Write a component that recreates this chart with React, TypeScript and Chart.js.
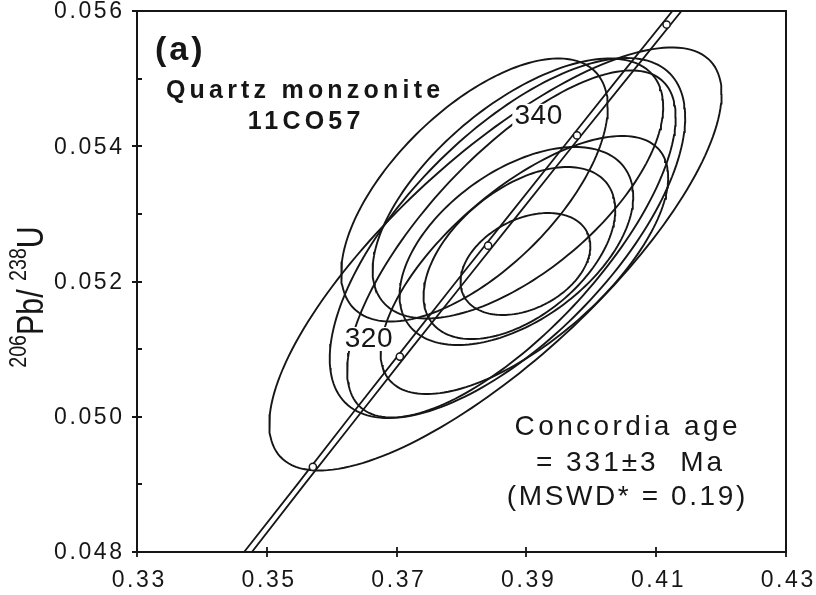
import React, { useEffect, useRef } from 'react';
import { Chart, registerables } from 'chart.js';
Chart.register(...registerables);

// Axis ticks
const xTicks = [0.33, 0.35, 0.37, 0.39, 0.41, 0.43];
const yTicks = [0.048, 0.05, 0.052, 0.054, 0.056];
const yMinorTicks = [0.049, 0.051, 0.053, 0.055];

// Concordia band edges, read at fixed 206Pb/238U levels
const bandY = [0.048, 0.049, 0.05, 0.051, 0.052, 0.053, 0.054, 0.055, 0.056];
const bandLeftX = [0.3465, 0.3547, 0.3628, 0.371, 0.3792, 0.3875, 0.3958, 0.4041, 0.4125];
const bandRightX = [0.3477, 0.3558, 0.364, 0.3722, 0.3805, 0.3888, 0.3971, 0.4055, 0.4139];

// Age markers on the concordia (Ma)
const markerAges = [310, 320, 330, 340, 350];
const markerX = [0.3571, 0.3705, 0.3841, 0.3978, 0.4116];
const markerY = [0.04926, 0.05089, 0.05253, 0.05416, 0.0558];

// Labelled ages
const ageLabels = ['320', '340'];
const ageLabelX = [0.36569, 0.39185];
const ageLabelY = [0.05115, 0.05445];

// Error ellipses: centre, half-extent in x / y, correlation
const ellCx = [0.38523, 0.38708, 0.38769, 0.38969, 0.382, 0.38869, 0.38846, 0.38892, 0.38985];
const ellCy = [0.052333, 0.052643, 0.052555, 0.052244, 0.053353, 0.053375, 0.052525, 0.052421, 0.052259];
const ellAx = [0.034846, 0.027385, 0.025308, 0.022154, 0.020538, 0.022385, 0.018, 0.014769, 0.01];
const ellAy = [0.003128, 0.002662, 0.002566, 0.001908, 0.001945, 0.001922, 0.001464, 0.001272, 0.000754];
const ellRho = [0.78, 0.67, 0.73, 0.68, 0.63, 0.63, 0.5, 0.5, 0.35];

const FONT = '"Liberation Sans", Arial, Helvetica, sans-serif';
const INK = '#161616';

function ellipsePoints(i: number) {
  const pts: { x: number; y: number }[] = [];
  const n = 180;
  const s = Math.sqrt(1 - ellRho[i] * ellRho[i]);
  for (let k = 0; k <= n; k++) {
    const t = (k / n) * Math.PI * 2;
    pts.push({
      x: ellCx[i] + ellAx[i] * Math.cos(t),
      y: ellCy[i] + ellAy[i] * (ellRho[i] * Math.cos(t) + s * Math.sin(t)),
    });
  }
  return pts;
}

function drawText(ctx: CanvasRenderingContext2D, str: string, x: number, y: number, font: string, align: CanvasTextAlign, spacing: number) {
  ctx.font = font;
  (ctx as any).letterSpacing = spacing + 'px';
  ctx.textAlign = align;
  ctx.textBaseline = 'middle';
  const dx = align === 'center' ? spacing / 2 : align === 'right' ? spacing : 0;
  ctx.fillText(str, x + dx, y);
}

const decor = {
  id: 'decor',
  afterDraw(chart: any) {
    const { ctx, chartArea: a, scales } = chart;
    const xs = scales.x;
    const ys = scales.y;
    ctx.save();
    ctx.strokeStyle = INK;
    ctx.lineWidth = 2;
    ctx.strokeRect(a.left, a.top, a.right - a.left, a.bottom - a.top);
    ctx.lineWidth = 1.8;
    ctx.beginPath();
    for (const v of yTicks) {
      const p = Math.round(ys.getPixelForValue(v));
      ctx.moveTo(a.left - 5, p);
      ctx.lineTo(a.left + 5, p);
    }
    for (const v of yMinorTicks) {
      const p = Math.round(ys.getPixelForValue(v));
      ctx.moveTo(a.left, p);
      ctx.lineTo(a.left + 5, p);
    }
    for (const v of xTicks) {
      const p = Math.round(xs.getPixelForValue(v));
      ctx.moveTo(p, a.bottom - 5);
      ctx.lineTo(p, a.bottom + 5);
    }
    ctx.stroke();

    ctx.fillStyle = INK;
    // tick labels
    for (const v of yTicks) {
      drawText(ctx, v.toFixed(3), a.left - 15, ys.getPixelForValue(v) + 1, `23px ${FONT}`, 'right', 2.6);
    }
    for (const v of xTicks) {
      drawText(ctx, v.toFixed(2), xs.getPixelForValue(v) + 1, a.bottom + 29, `23px ${FONT}`, 'center', 2.6);
    }
    // age labels on a white patch
    for (let i = 0; i < ageLabels.length; i++) {
      const px = xs.getPixelForValue(ageLabelX[i]);
      const py = ys.getPixelForValue(ageLabelY[i]);
      ctx.font = `28px ${FONT}`;
      (ctx as any).letterSpacing = '0.5px';
      const w = ctx.measureText(ageLabels[i]).width;
      ctx.fillStyle = '#ffffff';
      ctx.fillRect(px - w / 2 - 2, py - 12, w + 4, 24);
      ctx.fillStyle = INK;
      drawText(ctx, ageLabels[i], px, py, `28px ${FONT}`, 'center', 0.5);
    }
    // panel label and sample
    drawText(ctx, '(a)', a.left + 18, a.top + 40, `bold 34px ${FONT}`, 'left', 3);
    drawText(ctx, 'Quartz monzonite', a.left + 166, a.top + 80, `bold 25px ${FONT}`, 'center', 4.2);
    drawText(ctx, '11CO57', a.left + 167, a.top + 111, `bold 25px ${FONT}`, 'center', 4.2);
    // result text
    drawText(ctx, 'Concordia age', a.left + 489, a.top + 416, `28px ${FONT}`, 'center', 3.4);
    drawText(ctx, '= 331\u00B13  Ma', a.left + 492, a.top + 452, `28px ${FONT}`, 'center', 3.0);
    drawText(ctx, '(MSWD* = 0.19)', a.left + 489, a.top + 486, `28px ${FONT}`, 'center', 2.6);

    // y-axis title with superscripts, rotated
    (ctx as any).letterSpacing = '0px';
    ctx.save();
    ctx.translate(43, 297);
    ctx.rotate(-Math.PI / 2);
    ctx.scale(0.82, 1);
    ctx.textAlign = 'left';
    ctx.textBaseline = 'alphabetic';
    const parts: [string, boolean][] = [['206', true], ['Pb/ ', false], ['238', true], ['U', false]];
    const supFont = `24px ${FONT}`;
    const mainFont = `37px ${FONT}`;
    let total = 0;
    for (const [s, sup] of parts) {
      ctx.font = sup ? supFont : mainFont;
      total += ctx.measureText(s).width;
    }
    let x = -total / 2;
    for (const [s, sup] of parts) {
      ctx.font = sup ? supFont : mainFont;
      ctx.fillText(s, x, sup ? -17 : 0);
      x += ctx.measureText(s).width;
    }
    ctx.restore();
    ctx.restore();
  },
};

export default function App() {
  const ref = useRef<HTMLCanvasElement>(null);
  useEffect(() => {
    if (!ref.current) return;
    const datasets: any[] = [];
    datasets.push({
      label: 'ages',
      data: markerAges.map((_, i) => ({ x: markerX[i], y: markerY[i] })),
      showLine: false,
      pointRadius: 3.6,
      pointBackgroundColor: '#ffffff',
      pointBorderColor: INK,
      pointBorderWidth: 1.5,
      order: 0,
    });
    datasets.push({
      label: 'band-left',
      data: bandY.map((y, i) => ({ x: bandLeftX[i], y })),
      showLine: true,
      pointRadius: 0,
      borderColor: INK,
      borderWidth: 1.8,
      order: 1,
    });
    datasets.push({
      label: 'band-right',
      data: bandY.map((y, i) => ({ x: bandRightX[i], y })),
      showLine: true,
      pointRadius: 0,
      borderColor: INK,
      borderWidth: 1.8,
      order: 1,
    });
    for (let i = 0; i < ellCx.length; i++) {
      datasets.push({
        label: 'ellipse' + i,
        data: ellipsePoints(i),
        showLine: true,
        pointRadius: 0,
        borderColor: INK,
        borderWidth: 1.9,
        tension: 0,
        order: 2,
      });
    }
    const zeroPad = (s: any) => {
      s.paddingTop = 0;
      s.paddingBottom = 0;
      s.paddingLeft = 0;
      s.paddingRight = 0;
    };
    const chart = new Chart(ref.current, {
      type: 'scatter',
      data: { datasets },
      options: {
        animation: false,
        responsive: false,
        devicePixelRatio: 1,
        layout: { padding: { left: 0, top: 11, right: 30, bottom: 0 } },
        plugins: { legend: { display: false }, tooltip: { enabled: false } },
        scales: {
          x: {
            type: 'linear',
            min: 0.33,
            max: 0.43,
            afterBuildTicks: (s: any) => { s.ticks = xTicks.map((v) => ({ value: v })); },
            afterFit: (s: any) => { s.height = 43; zeroPad(s); },
            grid: { display: false, drawTicks: false },
            border: { display: false },
            ticks: { display: false },
          },
          y: {
            type: 'linear',
            min: 0.048,
            max: 0.056,
            afterBuildTicks: (s: any) => { s.ticks = yTicks.map((v) => ({ value: v })); },
            afterFit: (s: any) => { s.width = 137; zeroPad(s); },
            grid: { display: false, drawTicks: false },
            border: { display: false },
            ticks: { display: false },
          },
        },
      },
      plugins: [decor],
    });
    return () => chart.destroy();
  }, []);
  return (
    <div style={{ position: 'fixed', left: 0, top: 0, width: 816, height: 595, background: '#fff' }}>
      <canvas ref={ref} width={816} height={595} style={{ width: 816, height: 595, display: 'block' }} />
    </div>
  );
}
